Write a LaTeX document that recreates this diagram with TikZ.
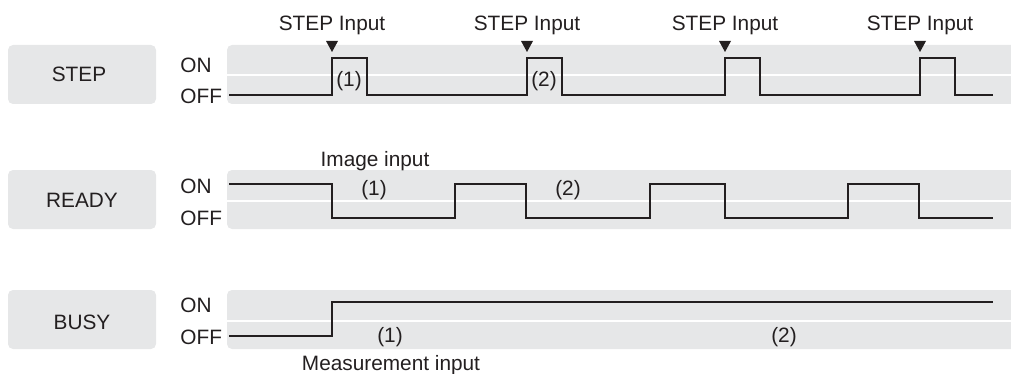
\documentclass[tikz,border=0pt]{standalone}
\usepackage{fontspec}
\setmainfont{Liberation Sans}
\definecolor{band}{HTML}{E6E7E8}
\definecolor{ink}{HTML}{231F20}
\begin{document}
\begin{tikzpicture}[x=0.5pt,y=-0.5pt,
  txt/.style={font=\fontsize{10.4}{12}\selectfont,text=ink,inner sep=0pt,anchor=base},
  lbox/.style={fill=band,rounded corners=2.5pt},
  sig/.style={draw=ink,line width=1.4pt,line join=miter},
  sep/.style={draw=white,line width=1pt},
  tri/.style={fill=ink}]
\useasboundingbox (0,0) rectangle (1011,374);
% bands and label boxes
\foreach \t/\b/\m in {45/104/75,170/229/201,290/349/321}{
  \fill[lbox] (8,\t) rectangle (156,\b);
  \fill[lbox] (227,\t) rectangle (1040,\b);
  \draw[sep] (227,\m) -- (1011,\m);
}
% labels
\node[txt] (lstep) at (79,82) {STEP};
\node[txt] (lready) at (82,207) {READY};
\node[txt] (lbusy) at (82,329) {BUSY};
\foreach \n/\on/\off in {s/73/104,r/193/225,b/312/344}{
  \node[txt,anchor=base west] (on\n) at (180,\on) {ON};
  \node[txt,anchor=base west] (off\n) at (180,\off) {OFF};
}
% STEP inputs
\foreach \x [count=\i] in {332,527,725,920}{
  \node[txt] (si\i) at (\x,31) {STEP Input};
  \fill[tri] (\x-6,41) -- (\x+6,41) -- (\x,52) -- cycle;
}
% STEP signal
\draw[sig] (229,95) -- (332,95) -- (332,58) -- (367,58) -- (367,95)
  -- (527,95) -- (527,58) -- (562,58) -- (562,95)
  -- (725,95) -- (725,58) -- (760,58) -- (760,95)
  -- (920,95) -- (920,58) -- (955,58) -- (955,95) -- (993,95);
\node[txt] (s1) at (349,87) {(1)};
\node[txt] (s2) at (544,87) {(2)};
% READY signal
\draw[sig] (229,184) -- (332,184) -- (332,218) -- (455,218) -- (455,184)
  -- (526,184) -- (526,218) -- (650,218) -- (650,184)
  -- (725,184) -- (725,218) -- (848,218) -- (848,184)
  -- (919,184) -- (919,218) -- (993,218);
\node[txt] (imgin) at (375,166) {Image input};
\node[txt] (r1) at (374,195) {(1)};
\node[txt] (r2) at (568,195) {(2)};
% BUSY signal
\draw[sig] (229,336) -- (332,336) -- (332,302) -- (993,302);
\node[txt] (b1) at (390,342) {(1)};
\node[txt] (b2) at (784,342) {(2)};
\node[txt] (measin) at (391,370) {Measurement input};
\end{tikzpicture}
\end{document}
